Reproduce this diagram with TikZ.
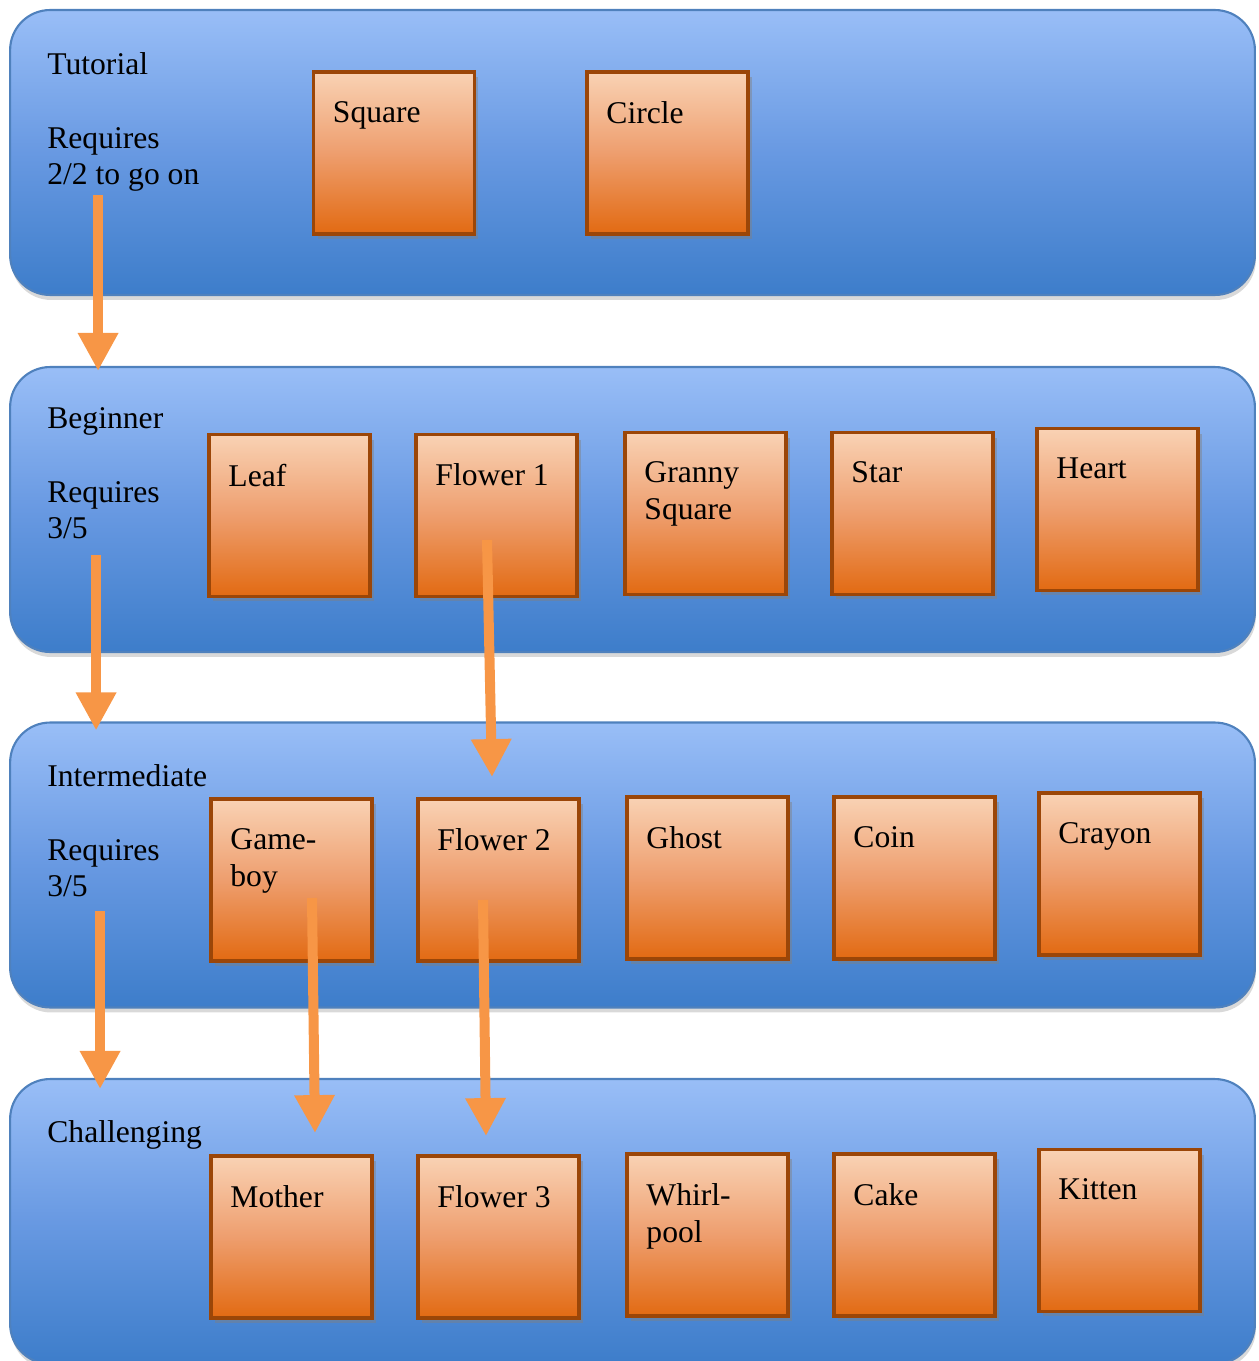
\documentclass[tikz,border=0pt]{standalone}
\usepackage{fontspec}
\setmainfont{Liberation Serif}
\usetikzlibrary{arrows.meta, shadows}
\definecolor{bandtop}{RGB}{153,190,247}
\definecolor{bandmid}{RGB}{104,153,226}
\definecolor{bandbot}{RGB}{61,125,202}
\definecolor{bandline}{RGB}{79,129,189}
\definecolor{tiletop}{RGB}{249,210,180}
\definecolor{tilemid}{RGB}{238,158,110}
\definecolor{tilebot}{RGB}{226,106,18}
\definecolor{tileline}{RGB}{155,70,8}
\definecolor{flowc}{RGB}{247,150,70}

\begin{document}
\begin{tikzpicture}[
    x=0.02cm, y=-0.02cm,
    font=\fontsize{18}{21}\selectfont,
    band/.style={rectangle, rounded corners=0.8cm, draw=bandline, line width=1.2pt, minimum width=24.9cm, minimum height=5.7cm, top color=bandtop, bottom color=bandbot, middle color=bandmid, drop shadow={shadow xshift=0.02cm, shadow yshift=-0.1cm, opacity=0.3}},
    tile/.style={rectangle, draw=tileline, line width=2.2pt, minimum width=3.22cm, minimum height=3.24cm, inner sep=0pt, top color=tiletop, bottom color=tilebot, middle color=tilemid, drop shadow={shadow xshift=0.08cm, shadow yshift=-0.1cm, opacity=0.45}},
    tiletext/.style={anchor=north west, xshift=0.42cm, yshift=-0.62cm, inner sep=0pt, align=left},
    level/.style={anchor=north west, inner sep=0pt, align=left},
    flow/.style={draw=flowc, line width=0.2cm, -{Triangle[width=0.76cm, length=0.76cm]}}
]
    \clip (0,0) rectangle (1258,1361);

    \node [band] (tut) at (632.5, 152.5) {};
    \node [band] (beg) at (632.5, 509.5) {};
    \node [band] (inter) at (632.5, 865) {};
    \node [band] (chal) at (632.5, 1221.5) {};

    \node [level] (tutL) at (47, 52) {Tutorial\\[21pt]Requires\\2/2 to go on};
    \node [level] (begL) at (47, 407) {Beginner\\[21pt]Requires\\3/5};
    \node [level] (interL) at (47, 764) {Intermediate\\[21pt]Requires\\3/5};
    \node [level] (chalL) at (47, 1120) {Challenging};

    \node [tile, label={[tiletext]north west:Square}] (square) at (394, 153) {};
    \node [tile, label={[tiletext]north west:Circle}] (circle) at (667.5, 153) {};

    \node [tile, label={[tiletext]north west:Leaf}] (leaf) at (289.5, 515.5) {};
    \node [tile, label={[tiletext]north west:Flower 1}] (flowerA) at (496.5, 515.5) {};
    \node [tile, label={[tiletext]north west:Granny\\Square}] (granny) at (705.5, 513.5) {};
    \node [tile, label={[tiletext]north west:Star}] (star) at (912.5, 513.5) {};
    \node [tile, label={[tiletext]north west:Heart}] (heart) at (1117.5, 509.5) {};

    \node [tile, label={[tiletext]north west:Game-\\boy}] (gameboy) at (291.5, 880) {};
    \node [tile, label={[tiletext]north west:Flower 2}] (flowerB) at (498.5, 880) {};
    \node [tile, label={[tiletext]north west:Ghost}] (ghost) at (707.5, 878) {};
    \node [tile, label={[tiletext]north west:Coin}] (coin) at (914.5, 878) {};
    \node [tile, label={[tiletext]north west:Crayon}] (crayon) at (1119.5, 874) {};

    \node [tile, label={[tiletext]north west:Mother}] (mother) at (291.5, 1237) {};
    \node [tile, label={[tiletext]north west:Flower 3}] (flowerC) at (498.5, 1237) {};
    \node [tile, label={[tiletext]north west:Whirl-\\pool}] (whirl) at (707.5, 1235) {};
    \node [tile, label={[tiletext]north west:Cake}] (cake) at (914.5, 1235) {};
    \node [tile, label={[tiletext]north west:Kitten}] (kitten) at (1119.5, 1230.5) {};

    \draw [flow] ([shift={(89,186)}]tut.north west) -- ([shift={(89,5)}]beg.north west);
    \draw [flow] ([shift={(87,189)}]beg.north west) -- ([shift={(87,9)}]inter.north west);
    \draw [flow] ([shift={(91,190)}]inter.north west) -- ([shift={(91,11)}]chal.north west);

    \draw [flow] ([shift={(-9.5,24.5)}]flowerA.center) -- ([shift={(-6.5,-20)}]flowerB.north);
    \draw [flow] ([shift={(20.5,18)}]gameboy.center) -- ([shift={(23.5,-21)}]mother.north);
    \draw [flow] ([shift={(-15.5,20)}]flowerB.center) -- ([shift={(-12.5,-18)}]flowerC.north);
\end{tikzpicture}
\end{document}
